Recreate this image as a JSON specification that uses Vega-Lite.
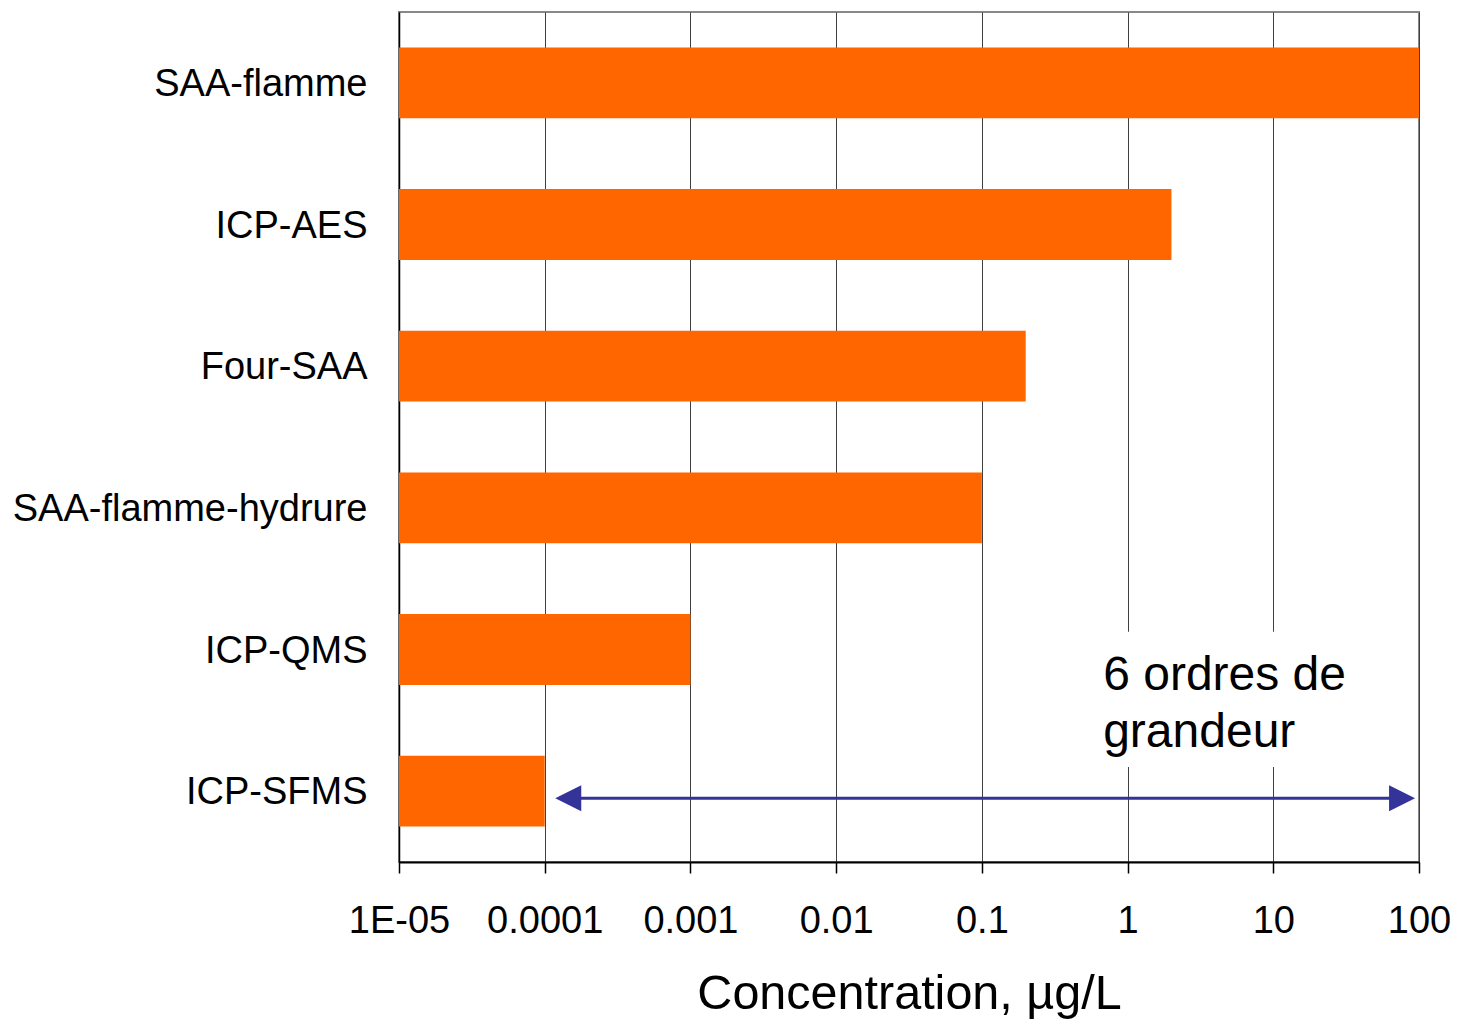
{
  "$schema": "https://vega.github.io/schema/vega-lite/v6.json",
  "width": 1020,
  "height": 850,
  "autosize": {"type": "none"},
  "padding": {"left": 399, "top": 12, "right": 39, "bottom": 159},
  "background": "white",
  "config": {
    "view": {"stroke": "#888888", "strokeWidth": 2},
    "font": "Liberation Sans"
  },
  "datasets": {
    "bars": [
      {"methode": "SAA-flamme", "conc": 100},
      {"methode": "ICP-AES", "conc": 2},
      {"methode": "Four-SAA", "conc": 0.2},
      {"methode": "SAA-flamme-hydrure", "conc": 0.1},
      {"methode": "ICP-QMS", "conc": 0.001},
      {"methode": "ICP-SFMS", "conc": 0.0001}
    ],
    "arrow": [{"debut": 0.000145, "fin": 76.5}],
    "box": [{"x1": 0.6, "x2": 40}],
    "note": [{"x": 0.68, "texte": "6 ordres de\ngrandeur"}]
  },
  "layer": [
    {
      "data": {"name": "bars"},
      "mark": {"type": "bar", "color": "#FF6600"},
      "encoding": {
        "y": {
          "field": "methode",
          "type": "nominal",
          "sort": null,
          "scale": {
            "domain": ["SAA-flamme", "ICP-AES", "Four-SAA", "SAA-flamme-hydrure", "ICP-QMS", "ICP-SFMS"],
            "paddingInner": 0.5,
            "paddingOuter": 0.25
          },
          "axis": {
            "title": null,
            "ticks": false,
            "tickSize": 0,
            "labelFontSize": 38,
            "labelColor": "black",
            "labelPadding": 32,
            "labelLimit": 0,
            "labelBaseline": "middle",
            "labelOffset": 2,
            "domainColor": "black",
            "domainWidth": 1.5,
            "grid": false
          }
        },
        "x": {
          "field": "conc",
          "type": "quantitative",
          "scale": {"type": "log", "domain": [0.00001, 100], "nice": false},
          "axis": {
            "values": [0.00001, 0.0001, 0.001, 0.01, 0.1, 1, 10, 100],
            "labelExpr": "datum.value < 0.00005 ? '1E-05' : format(datum.value, '~g')",
            "grid": true,
            "gridColor": "#404040",
            "gridWidth": 1,
            "tickSize": 11,
            "tickColor": "black",
            "tickWidth": 1.5,
            "labelFontSize": 38,
            "labelColor": "black",
            "labelPadding": 29,
            "labelFlush": false,
            "labelOverlap": false,
            "title": "Concentration, µg/L",
            "titleFontSize": 48.5,
            "titleFontWeight": "normal",
            "titleColor": "black",
            "titlePadding": 30,
            "domainColor": "black",
            "domainWidth": 2
          }
        },
        "x2": {"datum": 0.00001}
      }
    },
    {
      "data": {"name": "box"},
      "mark": {"type": "rect", "color": "white"},
      "encoding": {
        "x": {"field": "x1", "type": "quantitative"},
        "x2": {"field": "x2"},
        "y": {"datum": "ICP-QMS", "bandPosition": 0.25},
        "y2": {"datum": "ICP-SFMS", "bandPosition": 0.16}
      }
    },
    {
      "data": {"name": "arrow"},
      "mark": {"type": "rule", "color": "#333399", "strokeWidth": 3},
      "encoding": {
        "x": {"field": "debut", "type": "quantitative"},
        "x2": {"field": "fin"},
        "y": {"datum": "ICP-SFMS", "bandPosition": 0.6}
      }
    },
    {
      "data": {"name": "arrow"},
      "mark": {"type": "point", "shape": "M1,-1L-1,0L1,1Z", "size": 676, "filled": true, "color": "#333399", "opacity": 1, "strokeWidth": 0},
      "encoding": {
        "x": {"field": "debut", "type": "quantitative"},
        "y": {"datum": "ICP-SFMS", "bandPosition": 0.6}
      }
    },
    {
      "data": {"name": "arrow"},
      "mark": {"type": "point", "shape": "M-1,-1L1,0L-1,1Z", "size": 676, "filled": true, "color": "#333399", "opacity": 1, "strokeWidth": 0},
      "encoding": {
        "x": {"field": "fin", "type": "quantitative"},
        "y": {"datum": "ICP-SFMS", "bandPosition": 0.6}
      }
    },
    {
      "data": {"name": "note"},
      "mark": {"type": "text", "align": "left", "baseline": "alphabetic", "fontSize": 48, "lineBreak": "\n", "lineHeight": 57, "dy": 40, "color": "black"},
      "encoding": {
        "x": {"field": "x", "type": "quantitative"},
        "y": {"datum": "ICP-QMS", "bandPosition": 0.5},
        "text": {"field": "texte"}
      }
    }
  ]
}
